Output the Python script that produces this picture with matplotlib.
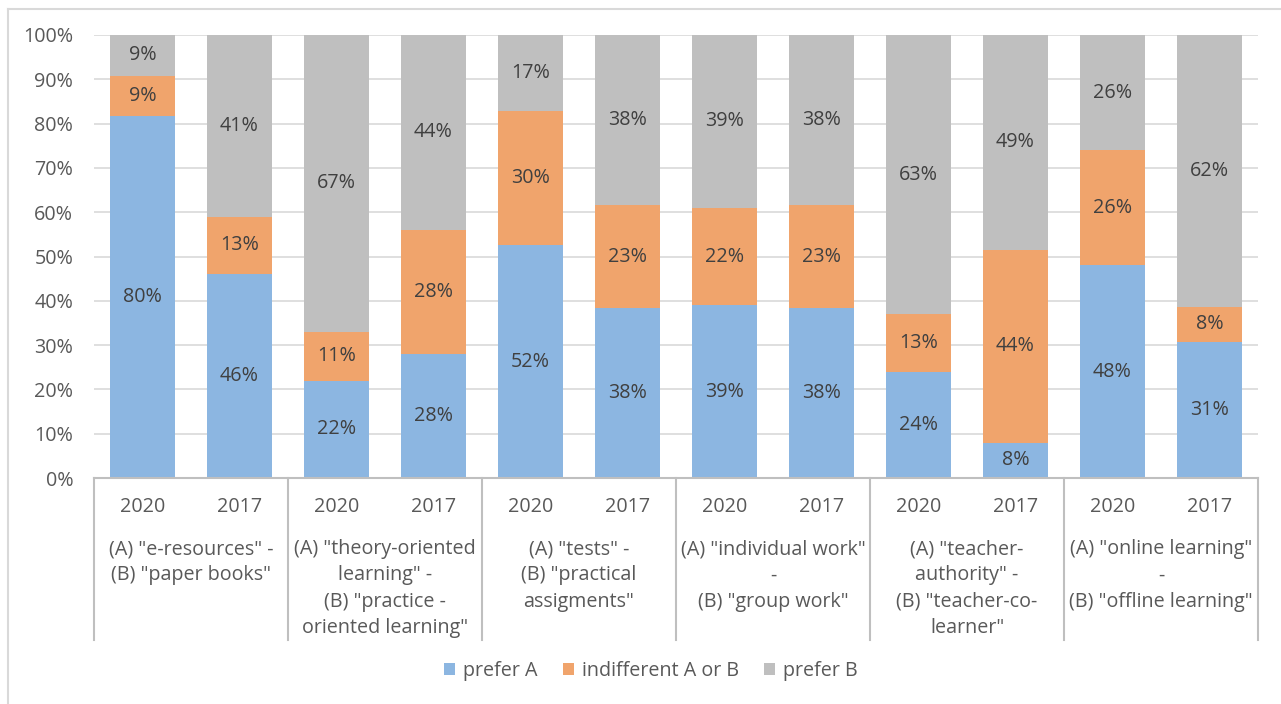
import matplotlib
matplotlib.use("Agg")
import matplotlib.pyplot as plt
from matplotlib.lines import Line2D
from matplotlib.patches import Patch
import numpy as np

years = ["2020", "2017"] * 6
groups = [
    '(A) "e-resources" -\n(B) "paper books"',
    '(A) "theory-oriented\nlearning" -\n(B) "practice -\noriented learning"',
    '(A) "tests" -\n(B) "practical\nassigments"',
    '(A) "individual work"\n-\n(B) "group work"',
    '(A) "teacher-\nauthority" -\n(B) "teacher-co-\nlearner"',
    '(A) "online learning"\n-\n(B) "offline learning"',
]
prefer_a = [80, 46, 22, 28, 52, 38, 39, 38, 24, 8, 48, 31]
indifferent = [9, 13, 11, 28, 30, 23, 22, 23, 13, 44, 26, 8]
prefer_b = [9, 41, 67, 44, 17, 38, 39, 38, 63, 49, 26, 62]
series_names = ["prefer A", "indifferent A or B", "prefer B"]
colors = ["#8CB6E1", "#F0A46C", "#BFBFBF"]

W, H = 1281, 704
fig = plt.figure(figsize=(W / 100, H / 100), dpi=100)
font = "Open Sans"
plt.rcParams["font.family"] = [font, "DejaVu Sans"]
FS = 14.2

x0, x1, ytop, ybot = 94, 1258, 35, 478
ax = fig.add_axes([x0 / W, 1 - ybot / H, (x1 - x0) / W, (ybot - ytop) / H])

data = np.array([prefer_a, indifferent, prefer_b], dtype=float)
totals = data.sum(axis=0)
norm = data / totals * 100
x = np.arange(len(years))
bottom = np.zeros(len(years))
for i in range(3):
    ax.bar(x, norm[i], bottom=bottom, width=0.66, color=colors[i], zorder=2,
           label=series_names[i])
    for j in range(len(x)):
        ax.text(x[j], bottom[j] + norm[i][j] / 2, f"{int(data[i][j])}%",
                ha="center", va="center", fontsize=FS, color="#404040", zorder=3)
    bottom += norm[i]

ax.set_xlim(-0.5, len(x) - 0.5)
ax.set_ylim(0, 100)
ax.set_yticks(np.arange(0, 101, 10))
ax.set_yticklabels([f"{v}%" for v in range(0, 101, 10)], fontsize=FS, color="#595959")
ax.tick_params(axis="y", length=0, pad=15)
ax.set_xticks([])
ax.grid(axis="y", color="#D9D9D9", linewidth=1.2, zorder=0)
for s in ["top", "right", "left"]:
    ax.spines[s].set_visible(False)
ax.spines["bottom"].set_color("#BFBFBF")
ax.spines["bottom"].set_linewidth(1.5)

# multi-level category axis
def fy(py):
    return 1 - py / H

trans = matplotlib.transforms.blended_transform_factory(ax.transData, fig.transFigure)
for j in range(len(x)):
    ax.text(x[j], fy(507), years[j], transform=trans, ha="center", va="center",
            fontsize=FS, color="#595959")
for g in range(len(groups)):
    ax.text(2 * g + 0.5, fy(539), groups[g], transform=trans, ha="center", va="top",
            fontsize=FS, color="#595959", linespacing=1.42)
for g in range(len(groups) + 1):
    xb = 2 * g - 0.5
    ax.add_line(Line2D([xb, xb], [fy(478), fy(640)], transform=trans,
                       color="#BFBFBF", linewidth=1.5, clip_on=False))

# legend
handles = [Patch(facecolor=c, edgecolor="none") for c in colors]
fig.legend(handles, series_names, loc="center", bbox_to_anchor=(651 / W, fy(671)),
           ncol=3, frameon=False, fontsize=FS, labelcolor="#595959",
           handlelength=0.55, handleheight=0.55, handletextpad=0.4, columnspacing=1.3)

# outer border
fig.add_artist(Line2D([8 / W, 8 / W], [0, fy(9)], transform=fig.transFigure,
                      color="#D9D9D9", linewidth=1.5))
fig.add_artist(Line2D([8 / W, 1], [fy(9), fy(9)], transform=fig.transFigure,
                      color="#D9D9D9", linewidth=1.5))

fig.savefig("out.png", dpi=100)
